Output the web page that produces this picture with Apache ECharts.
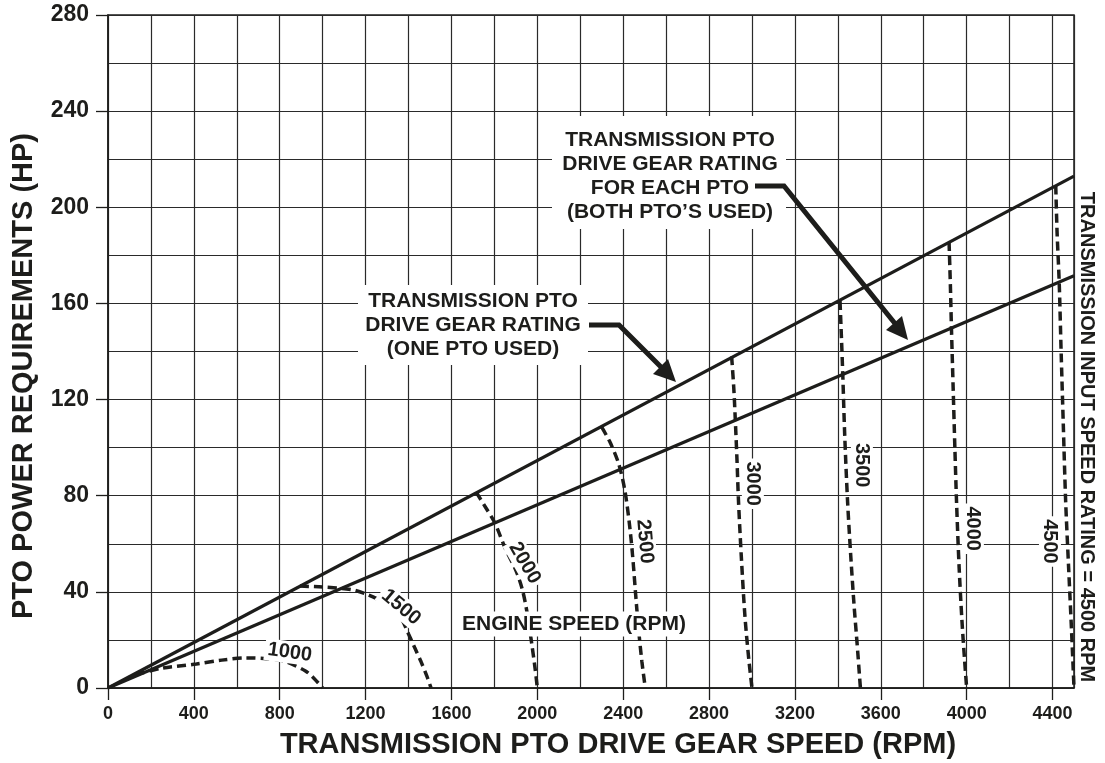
<!DOCTYPE html>
<html>
<head>
<meta charset="utf-8">
<title>PTO power requirements</title>
<script src="https://cdn.jsdelivr.net/npm/echarts@6/dist/echarts.min.js"></script>
<style>
  html, body { margin: 0; padding: 0; background: #fff; }
  #chart { width: 1105px; height: 763px; }
</style>
</head>
<body>
<div id="chart"></div>
<script>
// labelled ticks (grid lines are every 200 rpm / 20 hp)
var xTicks = [0, 400, 800, 1200, 1600, 2000, 2400, 2800, 3200, 3600, 4000, 4400];
var yTicks = [0, 40, 80, 120, 160, 200, 240, 280];

// gear ratings, [pto rpm, hp]
var onePtoRating = [[0, 0], [4500, 213]];
var bothPtoRating = [[0, 0], [4500, 171.5]];

// engine speed curves, [pto rpm, hp]
var engine1000 = [[130, 5.6], [250, 8.2], [412, 10], [530, 11.6], [641, 12.5], [740, 12.2], [820, 11.2], [918, 7.2], [960, 4], [1000, 0]];
var engine1500 = [[894, 42.4], [1000, 42], [1130, 41], [1200, 39.2], [1262, 36.7], [1320, 33.5], [1360, 30], [1400, 22.5], [1430, 16.5], [1458, 11], [1485, 5], [1505, 0]];
var engine2000 = [[1715, 81.5], [1760, 75], [1803, 68.5], [1851, 58], [1900, 49], [1930, 41], [1950, 32.5], [1973, 19], [1989, 8.5], [2000, 0]];
var engine2500 = [[2300, 108.5], [2340, 102], [2380, 93], [2408, 82], [2428, 69], [2444, 55], [2457, 40], [2471, 25], [2487, 11], [2503, 0]];
var engine3000 = [[2905, 138], [2915, 125], [2922, 112], [2930, 95], [2937, 78], [2950, 55], [2967, 30], [2985, 12], [3000, 0]];
var engine3500 = [[3410, 161], [3417, 145], [3423, 130], [3432, 105], [3445, 78], [3460, 55], [3475, 35], [3490, 18], [3505, 0]];
var engine4000 = [[3918, 185.5], [3924, 168], [3929, 150], [3937, 125], [3945, 100], [3953, 77], [3965, 50], [3978, 28], [3990, 12], [4000, 0]];
var engine4500 = [[4415, 209], [4421, 190], [4431, 169], [4440, 140], [4450, 110], [4461, 78], [4475, 50], [4488, 25], [4500, 0]];

var FONT = '"Liberation Sans", Arial, Helvetica, sans-serif';
var INK = '#1d1d1b';
var GRID = '#2a2a2a';

function rating(data) {
  return {
    type: 'line',
    data: data,
    symbol: 'none',
    silent: true,
    lineStyle: { color: INK, width: 3.2 },
    z: 3
  };
}

function engine(data, text, x, y, rot) {
  return {
    type: 'line',
    data: data,
    symbol: 'none',
    smooth: 0.3,
    silent: true,
    lineStyle: { color: INK, width: 3.5, type: [9, 5] },
    z: 2,
    markPoint: {
      symbol: 'circle',
      symbolSize: 1,
      silent: true,
      itemStyle: { color: 'rgba(0,0,0,0)' },
      label: {
        show: true,
        formatter: text,
        rotate: rot,
        color: INK,
        fontFamily: FONT,
        fontWeight: 'bold',
        fontSize: 20,
        backgroundColor: '#fff',
        padding: [1, 3]
      },
      data: [{ coord: [x, y] }]
    }
  };
}

function plain(v) {
  return String(v);
}

var chart = echarts.init(document.getElementById('chart'));

var option = {
  animation: false,
  backgroundColor: '#fff',
  grid: {
    left: 108, right: 31, top: 15, bottom: 75,
    show: true, borderColor: INK, borderWidth: 1.5
  },
  xAxis: [
    {
      type: 'value',
      min: 0, max: 4500, interval: 200,
      axisLine: { show: true, onZero: false, lineStyle: { color: INK, width: 1.5 } },
      axisTick: { show: true, length: 12, customValues: xTicks, lineStyle: { color: INK, width: 1.3 } },
      axisLabel: {
        customValues: xTicks, margin: 17, formatter: plain,
        color: INK, fontFamily: FONT, fontWeight: 'bold', fontSize: 18
      },
      splitLine: { show: false }
    },
    {
      // grid lines only
      type: 'value', position: 'bottom',
      min: 0, max: 4500, interval: 200,
      axisLine: { show: false }, axisTick: { show: false }, axisLabel: { show: false },
      splitLine: { show: true, lineStyle: { color: GRID, width: 1.2 } }
    }
  ],
  yAxis: [
    {
      type: 'value',
      min: 0, max: 280, interval: 20,
      axisLine: { show: true, onZero: false, lineStyle: { color: INK, width: 1.5 } },
      axisTick: { show: true, length: 12, customValues: yTicks, lineStyle: { color: INK, width: 1.3 } },
      axisLabel: {
        customValues: yTicks, margin: 19, formatter: plain,
        color: INK, fontFamily: FONT, fontWeight: 'bold', fontSize: 23
      },
      splitLine: { show: false }
    },
    {
      type: 'value', position: 'left',
      min: 0, max: 280, interval: 20,
      axisLine: { show: false }, axisTick: { show: false }, axisLabel: { show: false },
      splitLine: { show: true, lineStyle: { color: GRID, width: 1.2 } }
    }
  ],
  series: [
    rating(onePtoRating),
    rating(bothPtoRating),
    engine(engine1000, '1000', 847, 14.8, -8),
    engine(engine1500, '1500', 1365, 33.6, -40),
    engine(engine2000, '2000', 1941, 52, -60),
    engine(engine2500, '2500', 2500, 61, -85),
    engine(engine3000, '3000', 3004, 85, -90),
    engine(engine3500, '3500', 3512, 92.7, -90),
    engine(engine4000, '4000', 4029, 66.3, -90),
    engine(engine4500, '4500', 4388, 61, -90)
  ],
  graphic: [
    // axis titles
    {
      type: 'text', x: 618, y: 745, silent: true,
      style: {
        text: 'TRANSMISSION PTO DRIVE GEAR SPEED (RPM)',
        font: 'bold 29px ' + FONT, fill: INK, align: 'center', verticalAlign: 'middle'
      }
    },
    {
      type: 'text', x: 24, y: 376, rotation: Math.PI / 2, silent: true,
      style: {
        text: 'PTO POWER REQUIREMENTS (HP)',
        font: 'bold 29px ' + FONT, fill: INK, align: 'center', verticalAlign: 'middle'
      }
    },
    {
      type: 'text', x: 1087, y: 437, rotation: -Math.PI / 2, silent: true,
      style: {
        text: 'TRANSMISSION INPUT SPEED RATING = 4500 RPM',
        font: 'bold 20px ' + FONT, fill: INK, align: 'center', verticalAlign: 'middle'
      }
    },
    // engine speed caption
    {
      type: 'text', x: 574, y: 624, z: 10, silent: true,
      style: {
        text: 'ENGINE SPEED (RPM)',
        font: 'bold 21px ' + FONT, fill: INK, align: 'center', verticalAlign: 'middle',
        backgroundColor: '#fff', padding: [2, 4]
      }
    },
    // one pto callout
    {
      type: 'rect', z: 10, silent: true,
      shape: { x: 358, y: 285, width: 230, height: 80 },
      style: { fill: '#fff' }
    },
    {
      type: 'text', x: 473, y: 325, z: 11, silent: true,
      style: {
        text: 'TRANSMISSION PTO\nDRIVE GEAR RATING\n(ONE PTO USED)',
        font: 'bold 21px ' + FONT, fill: INK, align: 'center', verticalAlign: 'middle', lineHeight: 24
      }
    },
    {
      type: 'polyline', z: 11, silent: true,
      shape: { points: [[589, 325], [619, 325], [662, 368]] },
      style: { stroke: INK, lineWidth: 5, fill: null, lineJoin: 'miter' }
    },
    {
      type: 'polygon', z: 11, silent: true,
      shape: { points: [[676, 382], [653, 374], [668, 359]] },
      style: { fill: INK }
    },
    // both pto callout
    {
      type: 'rect', z: 10, silent: true,
      shape: { x: 552, y: 116, width: 234, height: 113 },
      style: { fill: '#fff' }
    },
    {
      type: 'text', x: 670, y: 176, z: 11, silent: true,
      style: {
        text: 'TRANSMISSION PTO\nDRIVE GEAR RATING\nFOR EACH PTO\n(BOTH PTO\u2019S USED)',
        font: 'bold 21px ' + FONT, fill: INK, align: 'center', verticalAlign: 'middle', lineHeight: 24
      }
    },
    {
      type: 'polyline', z: 11, silent: true,
      shape: { points: [[755, 186], [784, 186], [897, 326]] },
      style: { stroke: INK, lineWidth: 5, fill: null, lineJoin: 'miter' }
    },
    {
      type: 'polygon', z: 11, silent: true,
      shape: { points: [[908, 340], [886, 330], [902, 316]] },
      style: { fill: INK }
    }
  ]
};

chart.setOption(option);
</script>
</body>
</html>
